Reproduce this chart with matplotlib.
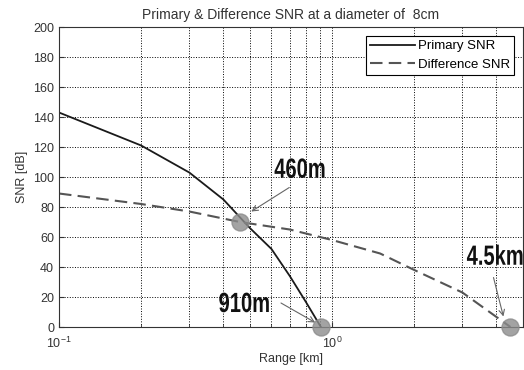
import matplotlib
matplotlib.use('agg')
import matplotlib.pyplot as plt
from matplotlib.patheffects import AbstractPathEffect
from matplotlib.transforms import Affine2D

# data
primary_range = [0.1, 0.2, 0.3, 0.4, 0.5, 0.6, 0.7, 0.8, 0.91]
primary_snr = [143, 121, 103, 85, 66, 52, 34, 17, 0]
diff_range = [0.1, 0.2, 0.3, 0.46, 0.7, 1.0, 1.5, 2.0, 3.0, 4.5]
diff_snr = [89, 82, 77, 70, 65, 58, 49, 38, 23, 0]
mark_range = [0.46, 0.91, 4.5]
mark_snr = [70, 0, 0]
mark_labels = ['460m', '910m', '4.5km']


class Tall(AbstractPathEffect):
    # stretch glyphs vertically (the callouts use a tall condensed face)
    def __init__(self, sy):
        super().__init__()
        self.sy = sy

    def draw_path(self, renderer, gc, tpath, affine, rgbFace=None):
        renderer.draw_path(gc, tpath, Affine2D().scale(1, self.sy) + affine, rgbFace)


plt.rcParams['font.family'] = ['Liberation Sans', 'DejaVu Sans']

fig = plt.figure(figsize=(5.24, 3.70), dpi=100)
ax = fig.add_axes([0.1126, 0.1162, 0.8854, 0.8108])

ax.plot(primary_range, primary_snr, color='#1a1a1a', lw=1.3, label='Primary SNR')
ax.plot(diff_range, diff_snr, color='#555555', lw=1.5, ls=(0, (6, 3)), label='Difference SNR')
ax.scatter(mark_range, mark_snr, s=150, color='#8c8c8c', alpha=0.8, zorder=4, clip_on=False)

ax.set_xscale('log')
ax.set_xlim(0.1, 5)
ax.set_ylim(0, 200)
ax.set_yticks(range(0, 201, 20))
ax.grid(True, which='both', axis='x', ls=':', color='black', lw=0.7)
ax.grid(True, which='major', axis='y', ls=':', color='black', lw=0.7)
ax.tick_params(which='both', direction='in', labelsize=9, color='#333333', labelcolor='#333333')
ax.tick_params(axis='x', which='major', pad=6)
ax.tick_params(axis='x', which='minor', labelbottom=False)
for s in ax.spines.values():
    s.set_color('#333333')

ax.set_title('Primary & Difference SNR at a diameter of  8cm', fontsize=10, color='#333333', pad=6)
ax.set_xlabel('Range [km]', fontsize=9, color='#333333', labelpad=2)
ax.set_ylabel('SNR [dB]', fontsize=9, color='#333333', labelpad=4)

# callouts: label left edge + baseline, arrow start, arrow tip (data coords)
text_pos = [(0.614, 99.5), (0.384, 10), (3.11, 41.5)]
arrow_from = [(0.697, 93), (0.65, 16), (3.9, 33)]
arrow_to = [(0.506, 77), (0.867, 3), (4.24, 7)]
for (tx, ty), a0, a1, lab in zip(text_pos, arrow_from, arrow_to, mark_labels):
    ax.annotate('', xy=a1, xytext=a0,
                arrowprops=dict(arrowstyle='->', color='#666666', lw=0.8, shrinkA=0, shrinkB=0))
    ax.text(tx, ty, lab, fontsize=14.5, fontweight='bold', color='#111111',
            ha='left', va='baseline', path_effects=[Tall(1.38)])

leg = ax.legend(loc='upper right', fontsize=9.5, fancybox=False, edgecolor='black',
                framealpha=1, handlelength=3.4, borderaxespad=0.7, handletextpad=0.2,
                borderpad=0.3, labelspacing=0.45)
leg.get_frame().set_linewidth(0.8)

fig.savefig('out.png', dpi=100)
